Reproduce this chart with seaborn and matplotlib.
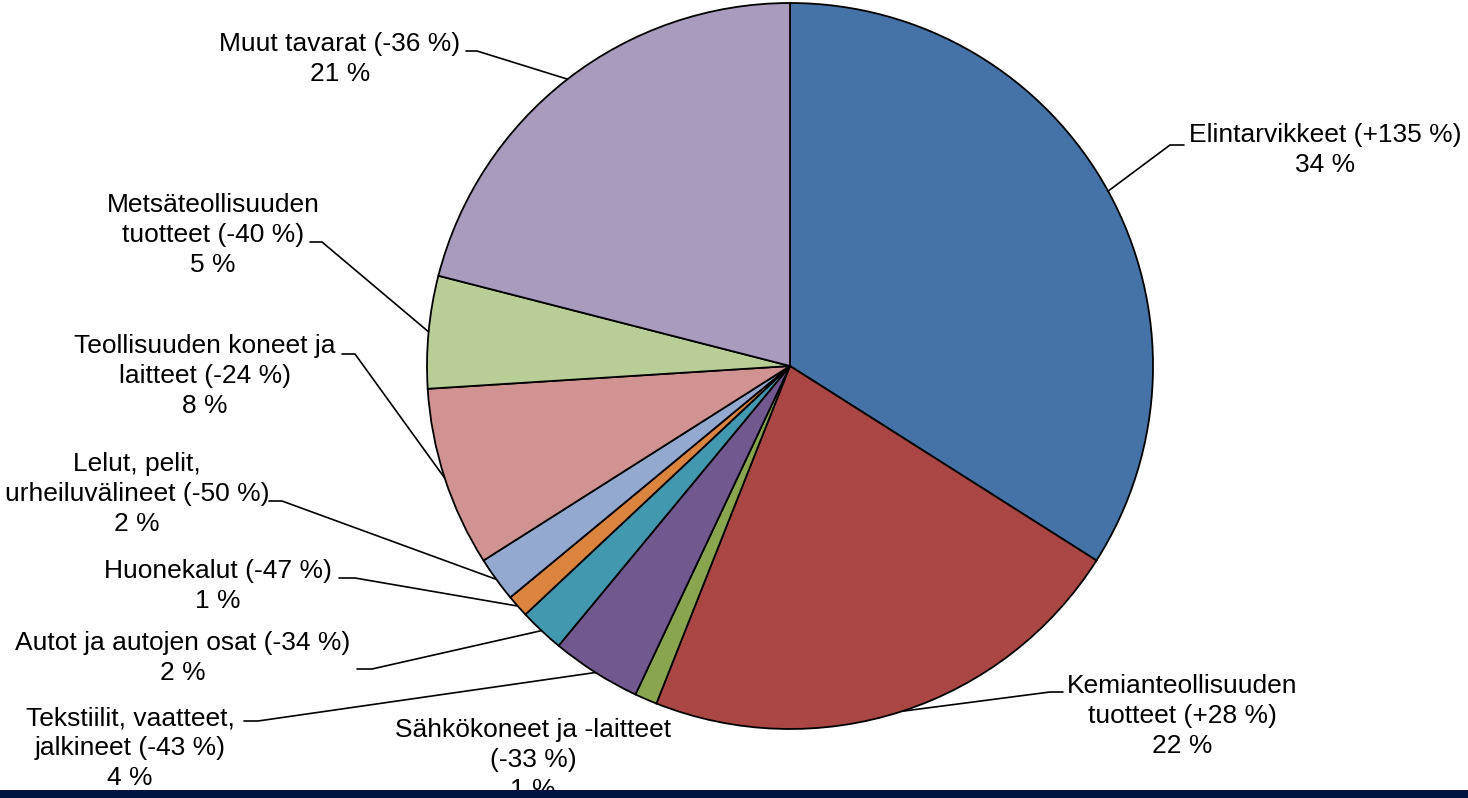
import numpy as np
import seaborn as sns
import matplotlib.pyplot as plt
from matplotlib.patches import Rectangle

# Data: share of imports by product group (change in brackets)
categories = [
    "Elintarvikkeet (+135 %)",
    "Kemianteollisuuden\ntuotteet (+28 %)",
    "Sähkökoneet ja -laitteet\n(-33 %)",
    "Tekstiilit, vaatteet,\njalkineet (-43 %)",
    "Autot ja autojen osat (-34 %)",
    "Huonekalut (-47 %)",
    "Lelut, pelit,\nurheiluvälineet (-50 %)",
    "Teollisuuden koneet ja\nlaitteet (-24 %)",
    "Metsäteollisuuden\ntuotteet (-40 %)",
    "Muut tavarat (-36 %)",
]
shares = [34, 22, 1, 4, 2, 1, 2, 8, 5, 21]
colors = ["#4573A7", "#AA4644", "#89A54E", "#71588F", "#4198AF",
          "#DB843D", "#93A9CF", "#D19392", "#B9CD96", "#A99BBD"]

W, H = 1468, 798

# label layout in pixel coords (y down): text centre, elbow start x, elbow end x, elbow y
label_pos = [(1325, 150), (1182, 716), (533, 760), (130, 748), (183, 658),
             (218, 586), (137, 494), (205, 376), (213, 235), (340, 59)]
elbows = [(1170, 1184, 145), (1050, 1063, 692), None, (258, 244, 721),
          (372, 357, 669), (355, 339, 578), (282, 269, 501), (355, 342, 354),
          (322, 310, 242), (477, 466, 51)]

sns.set_theme(style="white")
plt.rcParams["font.family"] = ["Liberation Sans", "DejaVu Sans"]

fig = plt.figure(figsize=(W / 100, H / 100), dpi=100)
ax = fig.add_axes([0, 0, 1, 1])

center = (790, H - 366)
radius = 363
wedges, _ = ax.pie(shares, colors=sns.color_palette(colors), startangle=90,
                   counterclock=False, center=center, radius=radius,
                   wedgeprops=dict(edgecolor="black", linewidth=1.3))
ax.set_xlim(0, W)
ax.set_ylim(0, H)
ax.set_aspect("equal")
ax.axis("off")

for w, cat, val, (tx, ty), elb in zip(wedges, categories, shares, label_pos, elbows):
    ax.text(tx, H - ty, f"{cat}\n{val} %", ha="center", va="center",
            fontsize=19, color="black", linespacing=1.3)
    if elb is None:
        continue
    mid = np.deg2rad((w.theta1 + w.theta2) / 2)
    px = w.center[0] + w.r * np.cos(mid)
    py = w.center[1] + w.r * np.sin(mid)
    x0, x1, ey = elb
    ax.plot([px, x0, x1], [py, H - ey, H - ey], color="black", lw=1.2,
            solid_joinstyle="miter")

# dark band at the bottom
fig.add_artist(Rectangle((0, 0), 1, 8 / H, transform=fig.transFigure,
                         facecolor="#001441", edgecolor="none", zorder=5))

fig.savefig("out.png", dpi=100)
